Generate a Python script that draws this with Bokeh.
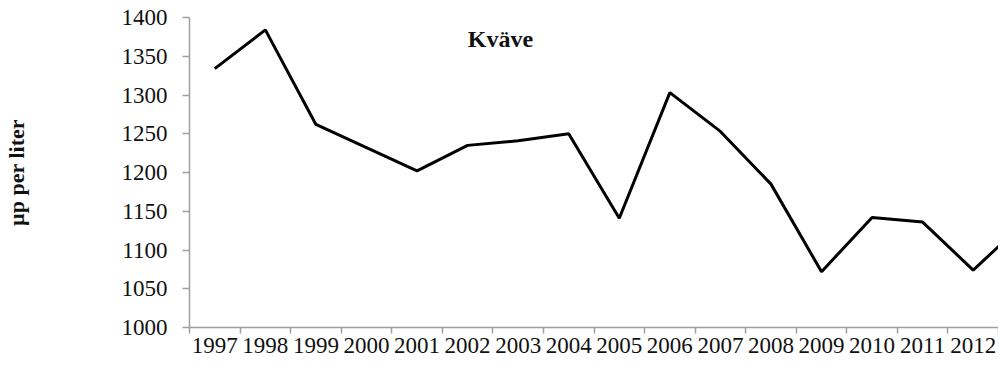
from bokeh.plotting import figure
from bokeh.models import Range1d, FixedTicker, Label
from bokeh.embed import file_html
from bokeh.resources import INLINE

# Data
years = [1997, 1998, 1999, 2000, 2001, 2002, 2003, 2004, 2005, 2006,
         2007, 2008, 2009, 2010, 2011, 2012, 2013]
kvave = [1334, 1384, 1262, 1232, 1202, 1235, 1241, 1250, 1141, 1303,
         1253, 1185, 1072, 1142, 1136, 1074, 1135]
label_years = years[:-1]
y_ticks = [1000, 1050, 1100, 1150, 1200, 1250, 1300, 1350, 1400]
title_text = "Kväve"
y_label = "µp per liter"

FONT = "Liberation Serif"
AXIS_GRAY = "#a0a0a0"

p = figure(width=998, height=360, output_backend="svg", toolbar_location=None,
           x_range=Range1d(label_years[0] - 0.5, label_years[-1] + 0.5),
           y_range=Range1d(y_ticks[0], y_ticks[-1]),
           min_border_left=184, min_border_right=0, min_border_top=17,
           min_border_bottom=33)

p.background_fill_color = "white"
p.border_fill_color = "white"
p.outline_line_color = None
p.xgrid.grid_line_color = None
p.ygrid.grid_line_color = None

p.line(years, kvave, line_color="black", line_width=3)

# x axis: labels at category centres, tick marks between categories
p.xaxis.ticker = FixedTicker(ticks=label_years,
                             minor_ticks=[y - 0.5 for y in label_years] + [label_years[-1] + 0.5])
p.xaxis.major_tick_out = 0
p.xaxis.major_tick_in = 0
p.xaxis.minor_tick_out = 6
p.xaxis.minor_tick_in = 0
p.xaxis.minor_tick_line_color = AXIS_GRAY
p.xaxis.minor_tick_line_width = 1.5
p.xaxis.axis_line_color = AXIS_GRAY
p.xaxis.axis_line_width = 1.5
p.xaxis.major_label_text_font = FONT
p.xaxis.major_label_text_font_size = "23px"
p.xaxis.major_label_text_color = "#111111"
p.xaxis.major_label_standoff = 4

# y axis
p.yaxis.ticker = FixedTicker(ticks=y_ticks)
p.yaxis.major_tick_out = 7
p.yaxis.major_tick_in = 0
p.yaxis.minor_tick_line_color = None
p.yaxis.major_tick_line_color = AXIS_GRAY
p.yaxis.major_tick_line_width = 1.5
p.yaxis.axis_line_color = AXIS_GRAY
p.yaxis.axis_line_width = 1.5
p.yaxis.major_label_text_font = FONT
p.yaxis.major_label_text_font_size = "23px"
p.yaxis.major_label_text_color = "#111111"
p.yaxis.major_label_standoff = 15
p.yaxis.axis_label = y_label
p.yaxis.axis_label_text_font = FONT
p.yaxis.axis_label_text_font_size = "22px"
p.yaxis.axis_label_text_font_style = "bold"
p.yaxis.axis_label_text_color = "#111111"
p.yaxis.axis_label_standoff = 90

title = Label(x=2002.65, y=1371.7, text=title_text, text_font=FONT,
              text_font_size="24px", text_font_style="bold",
              text_align="center", text_baseline="alphabetic",
              text_color="#111111")
p.add_layout(title)

open("out.html", "w").write(file_html(p, INLINE))
